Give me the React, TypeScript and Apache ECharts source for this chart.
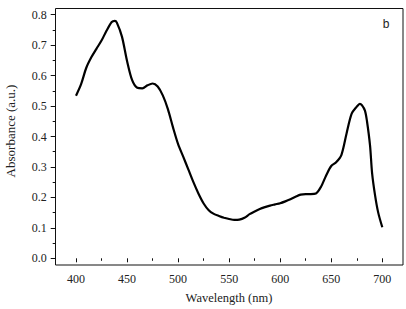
import React, { useEffect, useRef } from "react";
import * as echarts from "echarts";

const wavelengths = [
  400, 405, 410, 415, 420, 425, 430, 435, 438, 440, 445, 450, 455, 460, 465, 470, 475, 480, 485, 490,
  495, 500, 505, 510, 515, 520, 525, 530, 535, 540, 545, 550, 555, 560, 565, 570, 575, 580, 585, 590,
  595, 600, 605, 610, 615, 620, 625, 630, 635, 640, 645, 650, 655, 660, 665, 670, 675, 678, 680, 683,
  685, 688, 690, 693, 696, 700,
];
const absorbance = [
  0.534, 0.572, 0.625, 0.66, 0.688, 0.715, 0.748, 0.776, 0.78, 0.774, 0.728, 0.648, 0.585, 0.56, 0.558,
  0.568, 0.574, 0.564, 0.535, 0.49, 0.43, 0.375, 0.334, 0.292, 0.25, 0.212, 0.18, 0.158, 0.146, 0.139,
  0.133, 0.129, 0.126, 0.127, 0.133, 0.145, 0.154, 0.162, 0.168, 0.173, 0.177, 0.181, 0.187, 0.194,
  0.202, 0.209, 0.211, 0.211, 0.213, 0.235, 0.272, 0.303, 0.316, 0.34, 0.41, 0.475, 0.498, 0.507, 0.503,
  0.485, 0.45, 0.37, 0.28, 0.205, 0.15, 0.102,
];
const xTicks = [400, 450, 500, 550, 600, 650, 700];
const yTicks = [0, 0.1, 0.2, 0.3, 0.4, 0.5, 0.6, 0.7, 0.8];
const xTitle = "Wavelength (nm)";
const yTitle = "Absorbance (a.u.)";
const panelLabel = "b";

const SERIF = "Liberation Serif";
const SANS = "Liberation Sans";

export default function App() {
  const ref = useRef<HTMLDivElement>(null);
  useEffect(() => {
    if (!ref.current) return;
    const chart = echarts.init(ref.current, undefined, { renderer: "svg" });
    const data = wavelengths.map((w, i) => [w, absorbance[i]]);
    chart.setOption({
      animation: false,
      backgroundColor: "#fff",
      grid: { left: 76, right: 23.7, top: 14.7, bottom: 50.7, containLabel: false },
      xAxis: {
        type: "value",
        min: xTicks[0],
        max: xTicks[xTicks.length - 1],
        interval: 50,
        offset: 6.3,
        axisLine: { show: false },
        axisTick: { show: true, length: 4, lineStyle: { color: "#111", width: 1 } },
        minorTick: { show: true, splitNumber: 2, length: 2.5, lineStyle: { color: "#111", width: 1 } },
        splitLine: { show: false },
        axisLabel: {
          margin: 8,
          fontFamily: SERIF,
          fontSize: 12,
          color: "#222",
        },
      },
      yAxis: {
        type: "value",
        min: yTicks[0],
        max: yTicks[yTicks.length - 1],
        interval: 0.1,
        offset: 20.3,
        axisLine: { show: false },
        axisTick: { show: true, length: 5, lineStyle: { color: "#111", width: 1 } },
        minorTick: { show: true, splitNumber: 2, length: 3, lineStyle: { color: "#111", width: 1 } },
        splitLine: { show: false },
        axisLabel: {
          margin: 9,
          fontFamily: SERIF,
          fontSize: 12,
          color: "#222",
          formatter: (v: number) => v.toFixed(1),
        },
      },
      graphic: [
        {
          type: "rect",
          shape: { x: 55.5, y: 8.5, width: 347.5, height: 256.5 },
          style: { fill: "none", stroke: "#111", lineWidth: 1 },
          silent: true,
        },
        {
          type: "text",
          x: 229,
          y: 298,
          style: {
            text: xTitle,
            fontFamily: SERIF,
            fontSize: 12.5,
            fill: "#222",
            align: "center",
            verticalAlign: "middle",
          },
        },
        {
          type: "text",
          x: 10,
          y: 131,
          rotation: Math.PI / 2,
          style: {
            text: yTitle,
            fontFamily: SERIF,
            fontSize: 13,
            fill: "#222",
            align: "center",
            verticalAlign: "middle",
          },
        },
        {
          type: "text",
          x: 386,
          y: 24,
          style: {
            text: panelLabel,
            fontFamily: SANS,
            fontSize: 12,
            fill: "#222",
            align: "center",
            verticalAlign: "middle",
          },
        },
      ],
      series: [
        {
          type: "line",
          data,
          smooth: 0.3,
          showSymbol: false,
          lineStyle: { color: "#000", width: 2.2 },
          clip: false,
        },
      ],
    });
    return () => chart.dispose();
  }, []);
  return (
    <div
      ref={ref}
      style={{ position: "fixed", left: 0, top: 0, width: 406, height: 309, background: "#fff" }}
    />
  );
}
